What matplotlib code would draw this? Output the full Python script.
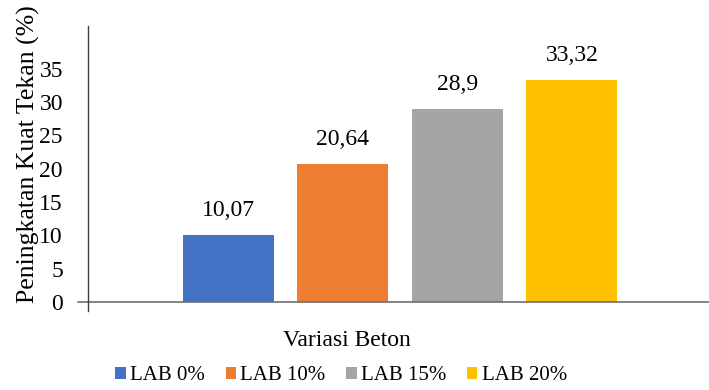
import matplotlib.pyplot as plt
from matplotlib.patches import Patch

series = ['LAB 0%', 'LAB 10%', 'LAB 15%', 'LAB 20%']
values = [10.07, 20.64, 28.9, 33.32]
labels = ['10,07', '20,64', '28,9', '33,32']
colors = ['#4472C4', '#ED7D31', '#A5A5A5', '#FFC000']
yticks = [0, 5, 10, 15, 20, 25, 30, 35]

plt.rcParams['font.family'] = ['Liberation Serif', 'DejaVu Serif']

fig = plt.figure(figsize=(7.09, 3.9), dpi=100)
ax = fig.add_axes([88 / 709, 79 / 390, 621 / 709, 285 / 390])

x = list(range(len(series)))
ax.bar(x, values, width=0.795, color=colors)
for xi, v, lab in zip(x, values, labels):
    ax.text(xi, v + 2.1, lab, ha='center', va='bottom', fontsize=17)

ax.set_xlim(-1.227, 4.197)
ax.set_ylim(-1.35, 41.4)
ax.set_yticks(yticks)
ax.set_xticks([])
ax.tick_params(axis='y', length=0, labelsize=17, pad=18)

for s in ['top', 'right', 'bottom']:
    ax.spines[s].set_visible(False)
ax.spines['left'].set_color('#404040')
ax.spines['left'].set_linewidth(1.0)
ax.axhline(0, xmin=-10 / 621, xmax=1, color='#6e6e6e', lw=1.2, clip_on=False)

fig.text(28 / 709, 1 - 154 / 390, 'Peningkatan Kuat Tekan (%)', rotation=90,
         ha='center', va='center', fontsize=18.5)
fig.text(347 / 709, 1 - 341 / 390, 'Variasi Beton', ha='center', va='center', fontsize=17)

handles = [Patch(facecolor=c, label=s) for c, s in zip(colors, series)]
fig.legend(handles=handles, loc='center', bbox_to_anchor=(341 / 709, 1 - 376 / 390),
           ncol=4, frameon=False, fontsize=15, handlelength=0.5, handleheight=0.5,
           handletextpad=0.2, columnspacing=1.0, borderaxespad=0)

fig.savefig('out.png', dpi=100)
